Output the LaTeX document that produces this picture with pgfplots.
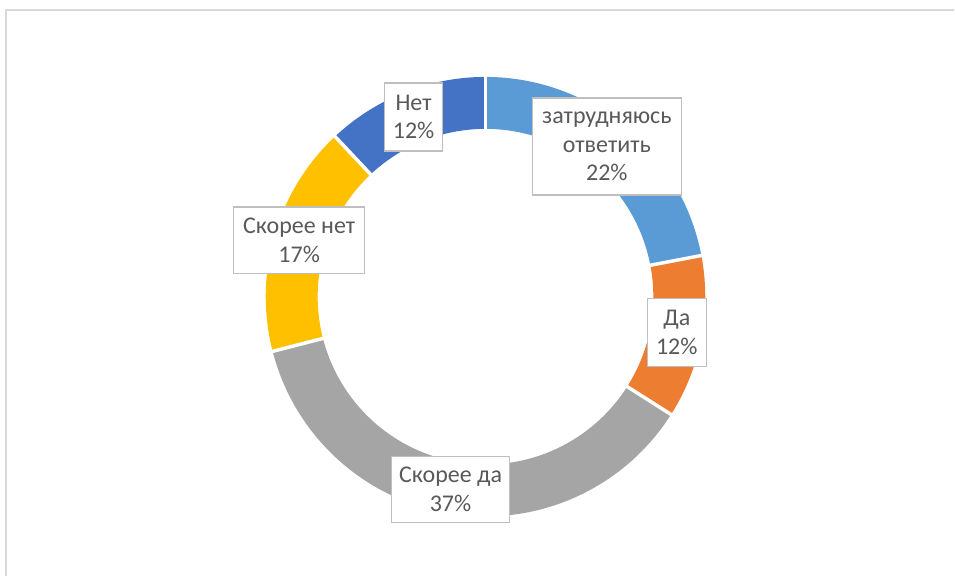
\documentclass[border=0pt]{standalone}
\usepackage{pgfplots}
\pgfplotsset{compat=1.18}
\usepackage{fontspec}
\setmainfont{Carlito}
\definecolor{cA}{HTML}{5B9BD5}
\definecolor{cB}{HTML}{ED7D31}
\definecolor{cC}{HTML}{A5A5A5}
\definecolor{cD}{HTML}{FFC000}
\definecolor{cE}{HTML}{4472C4}
\definecolor{txt}{HTML}{595959}
\definecolor{bx}{HTML}{BFBFBF}
\definecolor{frame}{HTML}{D9D9D9}
\tikzset{lbl/.style={draw=bx, line width=1.1pt, fill=white, text=txt, align=center,
    font=\fontsize{18}{21.4}\selectfont, inner sep=0pt}}
% values (percent), clockwise from 12 o'clock
\def\vA{22}\def\vB{12}\def\vC{37}\def\vD{17}\def\vE{12}
\begin{document}
\begin{tikzpicture}
\begin{axis}[
  scale only axis, width=716.25pt, height=432.75pt,
  xmin=0, xmax=955, ymin=0, ymax=577, y dir=reverse,
  hide axis, clip=false,
]
\addplot[draw=none] coordinates {(0,0) (955,577)};
\addplot[draw=frame, line width=1.5pt] coordinates {(6,577) (6,10) (955,10)};
% ring slices
\addplot[cA, line width=39pt, domain={90-3.6*(\vA)}:90, samples=80, variable=\t] ({486+194*cos(\t)},{297-194*sin(\t)});
\addplot[cB, line width=39pt, domain={90-3.6*(\vA+\vB)}:{90-3.6*(\vA)}, samples=60, variable=\t] ({486+194*cos(\t)},{297-194*sin(\t)});
\addplot[cC, line width=39pt, domain={90-3.6*(\vA+\vB+\vC)}:{90-3.6*(\vA+\vB)}, samples=120, variable=\t] ({486+194*cos(\t)},{297-194*sin(\t)});
\addplot[cD, line width=39pt, domain={90-3.6*(\vA+\vB+\vC+\vD)}:{90-3.6*(\vA+\vB+\vC)}, samples=70, variable=\t] ({486+194*cos(\t)},{297-194*sin(\t)});
\addplot[cE, line width=39pt, domain={90-3.6*(\vA+\vB+\vC+\vD+\vE)}:{90-3.6*(\vA+\vB+\vC+\vD)}, samples=60, variable=\t] ({486+194*cos(\t)},{297-194*sin(\t)});
% white separators
\addplot[white, line width=2.6pt, domain=160:230, samples=2, variable=\r] ({486+\r*cos(90)},{297-\r*sin(90)});
\addplot[white, line width=2.6pt, domain=160:230, samples=2, variable=\r] ({486+\r*cos(90-3.6*(\vA))},{297-\r*sin(90-3.6*(\vA))});
\addplot[white, line width=2.6pt, domain=160:230, samples=2, variable=\r] ({486+\r*cos(90-3.6*(\vA+\vB))},{297-\r*sin(90-3.6*(\vA+\vB))});
\addplot[white, line width=2.6pt, domain=160:230, samples=2, variable=\r] ({486+\r*cos(90-3.6*(\vA+\vB+\vC))},{297-\r*sin(90-3.6*(\vA+\vB+\vC))});
\addplot[white, line width=2.6pt, domain=160:230, samples=2, variable=\r] ({486+\r*cos(90-3.6*(\vA+\vB+\vC+\vD))},{297-\r*sin(90-3.6*(\vA+\vB+\vC+\vD))});
% labels
\node[lbl, minimum width=43.5pt, minimum height=51pt] at (axis cs:414,117) {Нет\\12\%};
\node[lbl, minimum width=111.75pt, minimum height=72.75pt] at (axis cs:607.5,146.5) {затрудняюсь\\ответить\\22\%};
\node[lbl, minimum width=44.25pt, minimum height=51pt] at (axis cs:677.5,333) {Да\\12\%};
\node[lbl, minimum width=88.5pt, minimum height=49.5pt] at (axis cs:451,490) {Скорее да\\37\%};
\node[lbl, minimum width=98.25pt, minimum height=50.25pt] at (axis cs:299.5,240.5) {Скорее нет\\17\%};
\end{axis}
\end{tikzpicture}
\end{document}
